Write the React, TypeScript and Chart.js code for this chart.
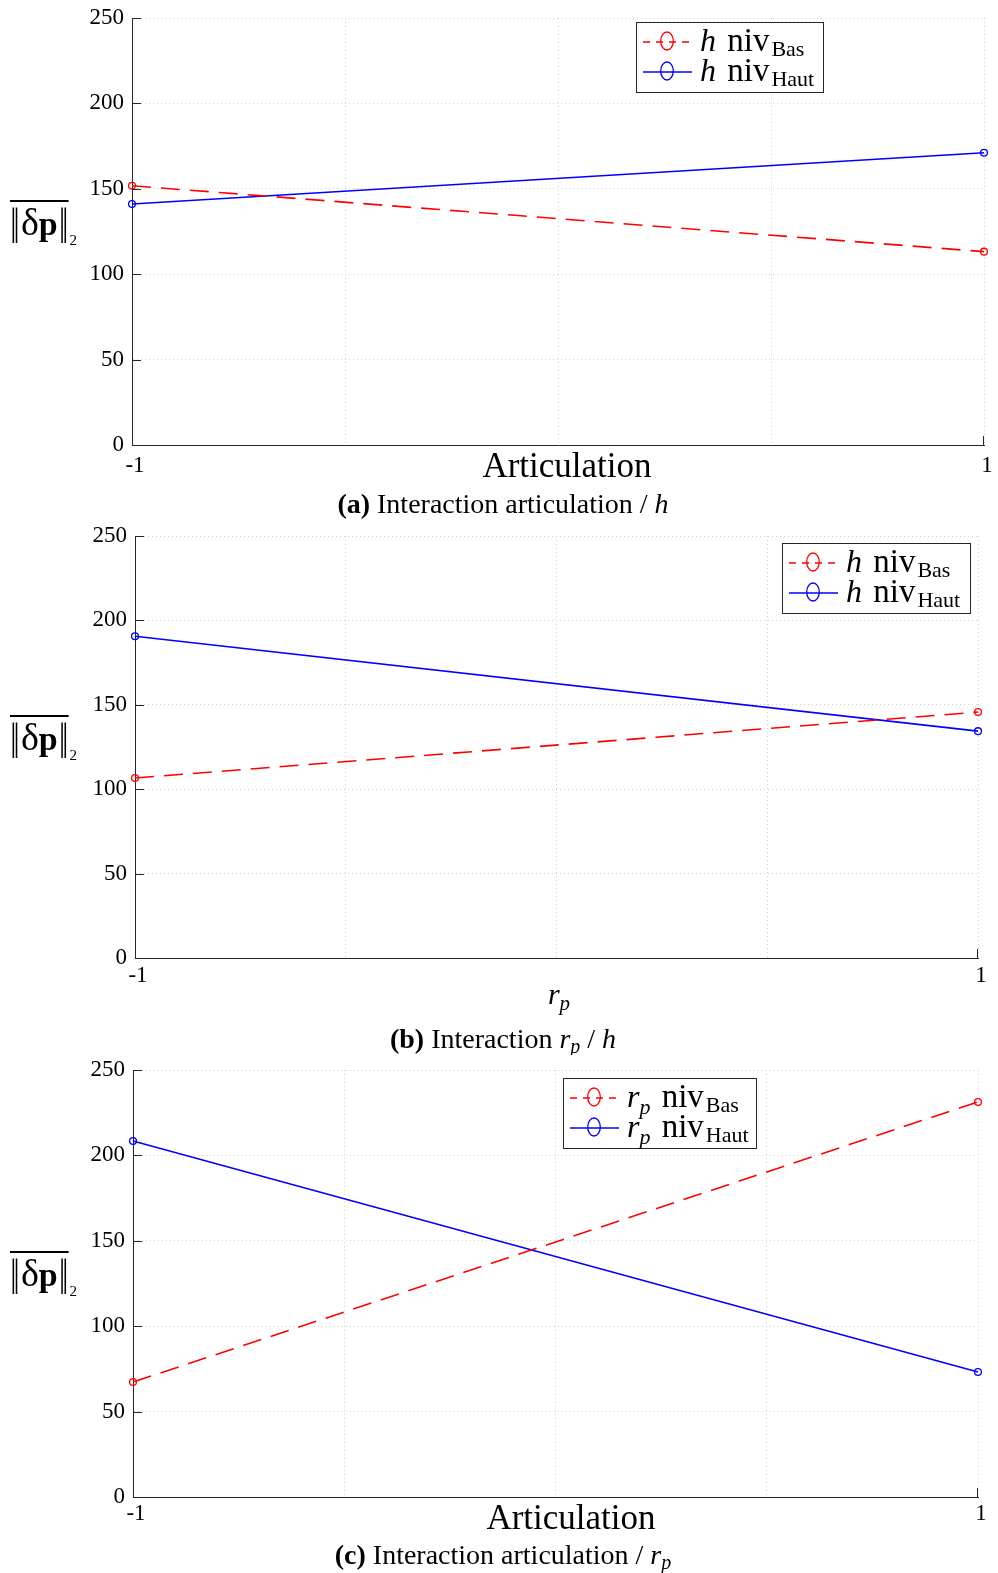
import React, { useEffect, useRef } from 'react';
import { Chart, registerables } from 'chart.js';

Chart.register(...registerables);

// ---------- data ----------
const xValues = [-1, 1];
const xTickLabels = ['-1', '1'];
const xGridValues = [-1, -0.5, 0, 0.5, 1];
const yTicks = [0, 50, 100, 150, 200, 250];

const aBas = [151.8, 113.2];
const aHaut = [141.1, 171.1];
const bBas = [106.6, 145.7];
const bHaut = [190.6, 134.4];
const cBas = [67.3, 231.3];
const cHaut = [208.4, 73.2];

const subLabels = ['Bas', 'Haut'];

// ---------- style helpers ----------
const SERIF = '"Liberation Serif", "Times New Roman", serif';
const fnt = (size: number, style = '') => `${style} ${size}px ${SERIF}`.trim();
const AXIS = '#262626';

type Run = { t: string; f: string; dy?: number; dx?: number; sx?: number; sy?: number };

function drawRuns(ctx: CanvasRenderingContext2D, runs: Run[], x: number, y: number, align: 'left' | 'center') {
  const ws = runs.map((r) => {
    ctx.font = r.f;
    return ctx.measureText(r.t).width * (r.sx || 1) + (r.dx || 0);
  });
  const total = ws.reduce((a, b) => a + b, 0);
  let cx = align === 'center' ? x - total / 2 : x;
  ctx.textAlign = 'left';
  ctx.textBaseline = 'alphabetic';
  ctx.fillStyle = '#000';
  const starts: number[] = [];
  runs.forEach((r, i) => {
    ctx.font = r.f;
    const sx0 = cx + (r.dx || 0);
    starts.push(sx0);
    ctx.save();
    ctx.translate(sx0, y + (r.dy || 0));
    ctx.scale(r.sx || 1, r.sy || 1);
    ctx.fillText(r.t, 0, 0);
    ctx.restore();
    cx += ws[i];
  });
  return { starts, ws };
}

type PanelCfg = {
  top: number;
  height: number;
  area: { left: number; right: number; top: number; bottom: number };
  bas: number[];
  haut: number[];
  xPad: number;
  legend: { x: number; y: number; w: number; h: number };
  legendVar: Run[];
  xTitle: Run[];
  xTitleX: number;
  xTitleY: number;
  caption: Run[];
  captionY: number;
  yTitleY: number;
};

const hVar: Run[] = [{ t: 'h', f: fnt(32, 'italic') }];
const rpVar: Run[] = [
  { t: 'r', f: fnt(32, 'italic') },
  { t: 'p', f: fnt(22, 'italic'), dy: 7 },
];

const CAP = 28;

const panels: PanelCfg[] = [
  {
    top: 0,
    height: 520,
    area: { left: 132, right: 984, top: 18, bottom: 445 },
    bas: aBas,
    haut: aHaut,
    xPad: 7,
    legend: { x: 636, y: 22, w: 187, h: 70 },
    legendVar: hVar,
    xTitle: [{ t: 'Articulation', f: fnt(35) }],
    xTitleX: 567,
    xTitleY: 477,
    caption: [
      { t: '(a)', f: fnt(CAP, 'bold') },
      { t: ' Interaction articulation / ', f: fnt(CAP) },
      { t: 'h', f: fnt(CAP, 'italic') },
    ],
    captionY: 513,
    yTitleY: 235,
  },
  {
    top: 520,
    height: 535,
    area: { left: 135, right: 978, top: 16, bottom: 438 },
    bas: bBas,
    haut: bHaut,
    xPad: 4,
    legend: { x: 782, y: 23, w: 188, h: 70 },
    legendVar: hVar,
    xTitle: [
      { t: 'r', f: fnt(30, 'italic') },
      { t: 'p', f: fnt(21, 'italic'), dy: 6 },
    ],
    xTitleX: 559,
    xTitleY: 484,
    caption: [
      { t: '(b)', f: fnt(CAP, 'bold') },
      { t: ' Interaction ', f: fnt(CAP) },
      { t: 'r', f: fnt(CAP, 'italic') },
      { t: 'p', f: fnt(20, 'italic'), dy: 5 },
      { t: ' / ', f: fnt(CAP) },
      { t: 'h', f: fnt(CAP, 'italic') },
    ],
    captionY: 528,
    yTitleY: 230,
  },
  {
    top: 1055,
    height: 518,
    area: { left: 133, right: 978, top: 15, bottom: 442 },
    bas: cBas,
    haut: cHaut,
    xPad: 3,
    legend: { x: 563, y: 23, w: 193, h: 70 },
    legendVar: rpVar,
    xTitle: [{ t: 'Articulation', f: fnt(35) }],
    xTitleX: 571,
    xTitleY: 474,
    caption: [
      { t: '(c)', f: fnt(CAP, 'bold') },
      { t: ' Interaction articulation / ', f: fnt(CAP) },
      { t: 'r', f: fnt(CAP, 'italic') },
      { t: 'p', f: fnt(20, 'italic'), dy: 5 },
    ],
    captionY: 509,
    yTitleY: 231,
  },
];

function makeOverlay(cfg: PanelCfg) {
  return {
    id: 'overlay',
    afterDraw(chart: any) {
      const ctx: CanvasRenderingContext2D = chart.ctx;
      const xs = chart.scales.x;
      const ys = chart.scales.y;
      const { left, bottom } = chart.chartArea;
      ctx.save();
      // inward tick marks
      ctx.strokeStyle = AXIS;
      ctx.lineWidth = 1;
      ctx.setLineDash([]);
      ctx.beginPath();
      yTicks.forEach((v) => {
        if (v === 0) return;
        const py = Math.round(ys.getPixelForValue(v)) + 0.5;
        ctx.moveTo(left, py);
        ctx.lineTo(left + 9, py);
      });
      const px1 = Math.round(xs.getPixelForValue(1)) - 0.5;
      ctx.moveTo(px1, bottom);
      ctx.lineTo(px1, bottom - 9);
      ctx.stroke();

      // legend
      const L = cfg.legend;
      ctx.fillStyle = '#fff';
      ctx.fillRect(L.x, L.y, L.w, L.h);
      ctx.strokeStyle = AXIS;
      ctx.lineWidth = 1;
      ctx.strokeRect(L.x + 0.5, L.y + 0.5, L.w, L.h);
      const rows = [
        { color: '#ff0000', dash: [7, 6], sub: subLabels[0], dy: 20 },
        { color: '#0000ff', dash: [] as number[], sub: subLabels[1], dy: 50 },
      ];
      rows.forEach((r) => {
        const ly = L.y + r.dy;
        ctx.strokeStyle = r.color;
        ctx.lineWidth = 1.3;
        ctx.setLineDash(r.dash);
        ctx.beginPath();
        ctx.moveTo(L.x + 7, ly);
        ctx.lineTo(L.x + 56, ly);
        ctx.stroke();
        ctx.setLineDash([]);
        ctx.beginPath();
        ctx.ellipse(L.x + 31, ly - 1, 6.3, 9, 0, 0, Math.PI * 2);
        ctx.stroke();
        drawRuns(
          ctx,
          [...cfg.legendVar, { t: ' niv', f: fnt(33), dx: 3 }, { t: r.sub, f: fnt(22), dy: 5, dx: 2 }],
          L.x + 64,
          ly + 9,
          'left'
        );
      });

      // x title
      drawRuns(ctx, cfg.xTitle, cfg.xTitleX, cfg.xTitleY, 'center');
      // caption
      drawRuns(ctx, cfg.caption, 503, cfg.captionY, 'center');

      // y title: overline ||δp||_2
      const bar = `36px "DejaVu Serif", serif`;
      const yt: Run[] = [
        { t: '‖', f: bar, sx: 0.55 },
        { t: 'δ', f: fnt(38), dx: 1 },
        { t: 'p', f: fnt(34, 'bold') },
        { t: '‖', f: bar, sx: 0.55, dx: 1 },
        { t: '2', f: fnt(15), dy: 10, dx: 1 },
      ];
      const res = drawRuns(ctx, yt, 10, cfg.yTitleY, 'left');
      const x0 = res.starts[0];
      const x1 = res.starts[3] + res.ws[3] - 1;
      ctx.fillStyle = '#000';
      ctx.fillRect(x0, cfg.yTitleY - 35, x1 - x0, 2);
      ctx.restore();
    },
  };
}

function Panel({ cfg }: { cfg: PanelCfg }) {
  const ref = useRef<HTMLCanvasElement | null>(null);
  useEffect(() => {
    if (!ref.current) return;
    const a = cfg.area;
    const tickFont = { family: SERIF, size: 23 };
    const chart = new Chart(ref.current, {
      type: 'line',
      data: {
        datasets: [
          {
            label: 'niv Bas',
            data: xValues.map((x, i) => ({ x, y: cfg.bas[i] })),
            borderColor: '#ff0000',
            borderDash: [19, 10],
            borderWidth: 1.6,
            pointRadius: 3.4,
            pointBorderWidth: 1.3,
            pointBackgroundColor: 'rgba(0,0,0,0)',
            pointBorderColor: '#ff0000',
            fill: false,
            tension: 0,
            clip: false,
          },
          {
            label: 'niv Haut',
            data: xValues.map((x, i) => ({ x, y: cfg.haut[i] })),
            borderColor: '#0000ff',
            borderWidth: 1.6,
            pointRadius: 3.4,
            pointBorderWidth: 1.3,
            pointBackgroundColor: 'rgba(0,0,0,0)',
            pointBorderColor: '#0000ff',
            fill: false,
            tension: 0,
            clip: false,
          },
        ],
      },
      options: {
        animation: false,
        responsive: false,
        maintainAspectRatio: false,
        devicePixelRatio: 1,
        layout: { padding: { top: a.top, right: 998 - a.right, left: 0, bottom: 0 } },
        plugins: { legend: { display: false }, tooltip: { enabled: false } },
        scales: {
          x: {
            type: 'linear',
            min: -1,
            max: 1,
            afterBuildTicks: (s: any) => {
              s.ticks = xGridValues.map((v) => ({ value: v }));
            },
            afterFit: (s: any) => {
              s.height = cfg.height - a.bottom;
              s.paddingLeft = 0;
              s.paddingRight = 0;
            },
            ticks: {
              autoSkip: false,
              maxRotation: 0,
              padding: cfg.xPad,
              labelOffset: 3,
              color: '#000',
              font: tickFont,
              callback: (v: any) => {
                const i = xValues.indexOf(Number(v));
                return i >= 0 ? xTickLabels[i] : '';
              },
            },
            grid: { color: '#d0d0d0', drawTicks: false, lineWidth: 1 },
            border: { color: AXIS, width: 1, dash: [1, 3] },
          },
          y: {
            type: 'linear',
            min: 0,
            max: 250,
            afterBuildTicks: (s: any) => {
              s.ticks = yTicks.map((v) => ({ value: v }));
            },
            afterFit: (s: any) => {
              s.width = a.left;
              s.paddingTop = 0;
              s.paddingBottom = 0;
            },
            ticks: {
              padding: 8,
              color: '#000',
              font: tickFont,
            },
            grid: { color: '#d0d0d0', drawTicks: false, lineWidth: 1 },
            border: { color: AXIS, width: 1, dash: [1, 3] },
          },
        },
      },
      plugins: [makeOverlay(cfg)],
    } as any);
    return () => chart.destroy();
  }, [cfg]);
  return (
    <canvas
      ref={ref}
      width={998}
      height={cfg.height}
      style={{ position: 'absolute', left: 0, top: cfg.top, width: 998, height: cfg.height }}
    />
  );
}

export default function App() {
  return (
    <div style={{ position: 'absolute', left: 0, top: 0, width: 998, height: 1573, background: '#fff' }}>
      {panels.map((p, i) => (
        <Panel key={i} cfg={p} />
      ))}
    </div>
  );
}
